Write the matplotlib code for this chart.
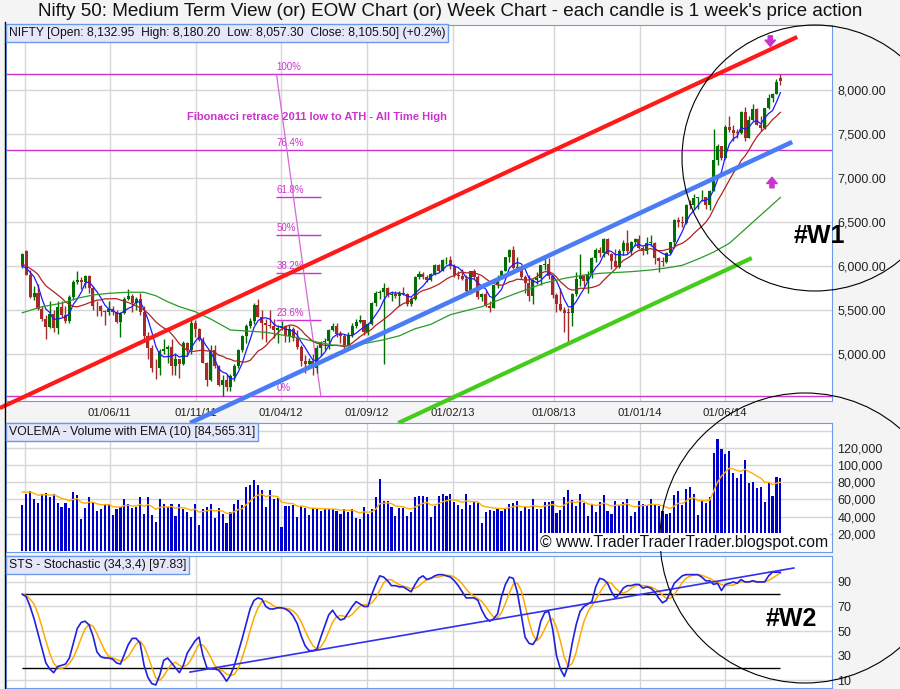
import matplotlib
matplotlib.use('Agg')
import matplotlib.pyplot as plt
import matplotlib.dates as mdates
from matplotlib.patches import Circle
import numpy as np
import pandas as pd

plt.rcParams['font.family'] = ['Liberation Sans', 'DejaVu Sans']

# ---------------- data: weekly Nifty 50 candles, week of 27/12/2010 .. week of 08/09/2014
first_week = '2010-12-27'

week_open = [
    5999, 6177, 5904, 5654, 5696, 5512, 5396, 5310, 5458, 5303,
    5538, 5445, 5374, 5654, 5826, 5842, 5824, 5884, 5749, 5551,
    5544, 5486, 5476, 5516, 5485, 5366, 5471, 5627, 5660, 5581,
    5633, 5482, 5211, 5072, 4845, 4839, 5040, 5059, 5084, 4868,
    4943, 4888, 5132, 5049, 5360, 5284, 5168, 4906, 4710, 5050,
    4867, 4651, 4714, 4624, 4754, 4867, 5049, 5204, 5325, 5381,
    5564, 5429, 5359, 5334, 5318, 5278, 5296, 5322, 5207, 5290,
    5190, 5086, 4929, 4891, 4920, 4842, 5068, 5139, 5146, 5279,
    5317, 5227, 5205, 5100, 5215, 5320, 5366, 5386, 5258, 5342,
    5577, 5691, 5703, 5747, 5676, 5684, 5665, 5698, 5686, 5574,
    5627, 5880, 5907, 5880, 5848, 5908, 6016, 5951, 6065, 6074,
    5998, 5904, 5887, 5850, 5719, 5946, 5872, 5651, 5682, 5553,
    5528, 5783, 5871, 5944, 6107, 6187, 5983, 5986, 5881, 5808,
    5667, 5842, 5868, 6009, 6029, 5887, 5677, 5566, 5508, 5472,
    5471, 5680, 5851, 5889, 5833, 5907, 6096, 6189, 6145, 6307,
    6141, 6056, 5995, 6176, 6260, 6168, 6274, 6314, 6211, 6171,
    6262, 6266, 6090, 6063, 6048, 6155, 6277, 6527, 6504, 6494,
    6696, 6694, 6776, 6780, 6782, 6694, 6859, 7203, 7367, 7229,
    7583, 7542, 7511, 7508, 7751, 7459, 7663, 7790, 7602, 7568,
    7792, 7913, 7954, 8132.95]

week_high = [
    6147, 6181, 5960, 5770, 5800, 5550, 5450, 5600, 5500, 5600,
    5600, 5550, 5670, 5842, 5944, 5880, 5900, 5900, 5780, 5600,
    5560, 5500, 5600, 5550, 5500, 5480, 5650, 5740, 5690, 5650,
    5700, 5550, 5250, 5100, 4950, 5060, 5170, 5100, 5170, 5020,
    4950, 5150, 5140, 5400, 5390, 5300, 5200, 4910, 5100, 5100,
    4880, 4760, 4780, 4780, 4890, 5060, 5220, 5340, 5414, 5580,
    5630, 5500, 5400, 5500, 5400, 5330, 5380, 5330, 5330, 5310,
    5280, 5100, 4990, 4960, 5000, 5100, 5150, 5190, 5290, 5350,
    5350, 5260, 5230, 5250, 5350, 5400, 5450, 5390, 5360, 5590,
    5720, 5735, 5815, 5760, 5720, 5720, 5720, 5760, 5700, 5650,
    5885, 5950, 5930, 5900, 5920, 6020, 6020, 6080, 6100, 6111,
    6020, 5950, 5970, 5900, 5950, 5970, 5900, 5700, 5720, 5600,
    5790, 5900, 5960, 6110, 6200, 6229, 6100, 6000, 5900, 5900,
    5850, 5930, 6010, 6090, 6093, 5900, 5700, 5750, 5540, 5520,
    5700, 5930, 6142, 5900, 5950, 6100, 6210, 6220, 6320, 6320,
    6150, 6190, 6200, 6300, 6415, 6290, 6325, 6358, 6225, 6330,
    6350, 6270, 6100, 6100, 6160, 6280, 6537, 6560, 6574, 6702,
    6750, 6820, 6790, 6870, 6790, 6870, 7563, 7390, 7370, 7600,
    7700, 7600, 7560, 7760, 7808, 7700, 7840, 7800, 7700, 7800,
    7950, 7968, 8130, 8180.20]

week_low = [
    5984, 5896, 5640, 5611, 5500, 5380, 5177, 5300, 5250, 5230,
    5420, 5350, 5350, 5620, 5800, 5740, 5750, 5700, 5500, 5430,
    5430, 5330, 5450, 5450, 5350, 5196, 5460, 5620, 5480, 5500,
    5450, 5160, 4948, 4800, 4720, 4760, 5000, 4900, 4760, 4760,
    4730, 4880, 4990, 5000, 5200, 5150, 4900, 4640, 4700, 4850,
    4640, 4531, 4588, 4588, 4700, 4840, 5030, 5130, 5300, 5340,
    5420, 5170, 5135, 5300, 5180, 5130, 5280, 5140, 5140, 5150,
    5060, 4870, 4790, 4870, 4770, 4790, 4980, 5050, 5060, 5270,
    5200, 5130, 5030, 5090, 5200, 5300, 5350, 5220, 5215, 5330,
    5550, 5630, 4888, 5650, 5600, 5640, 5550, 5670, 5550, 5550,
    5620, 5860, 5850, 5820, 5830, 5900, 5930, 5940, 6020, 5970,
    5880, 5860, 5840, 5670, 5690, 5860, 5630, 5600, 5540, 5477,
    5520, 5750, 5860, 5940, 6050, 5970, 5940, 5850, 5700, 5600,
    5566, 5800, 5790, 5960, 5860, 5640, 5480, 5490, 5254, 5118,
    5318, 5660, 5780, 5780, 5700, 5870, 6050, 6100, 6100, 6130,
    5970, 5990, 5980, 6130, 6150, 6130, 6230, 6200, 6130, 6140,
    6230, 6030, 5933, 6000, 6040, 6140, 6212, 6450, 6450, 6480,
    6650, 6650, 6650, 6740, 6650, 6638, 6850, 7150, 7200, 7220,
    7520, 7420, 7450, 7500, 7420, 7450, 7650, 7600, 7540, 7560,
    7780, 7860, 7950, 8057.30]

week_close = [
    6135, 5904, 5654, 5696, 5512, 5396, 5310, 5458, 5303, 5538,
    5445, 5374, 5654, 5826, 5842, 5824, 5884, 5749, 5551, 5544,
    5486, 5476, 5516, 5485, 5366, 5471, 5627, 5660, 5581, 5633,
    5482, 5211, 5072, 4845, 4839, 5040, 5059, 5084, 4868, 4943,
    4888, 5132, 5049, 5360, 5284, 5168, 4906, 4710, 5050, 4867,
    4651, 4714, 4624, 4754, 4867, 5049, 5204, 5325, 5381, 5564,
    5429, 5359, 5334, 5318, 5278, 5296, 5322, 5207, 5290, 5190,
    5086, 4929, 4891, 4920, 4842, 5068, 5139, 5146, 5279, 5317,
    5227, 5205, 5100, 5215, 5320, 5366, 5386, 5258, 5342, 5577,
    5691, 5703, 5747, 5676, 5684, 5665, 5698, 5686, 5574, 5627,
    5880, 5907, 5880, 5848, 5908, 6016, 5951, 6065, 6074, 5998,
    5904, 5887, 5850, 5719, 5946, 5872, 5651, 5682, 5553, 5528,
    5783, 5871, 5944, 6107, 6187, 5983, 5986, 5881, 5808, 5667,
    5842, 5868, 6009, 6029, 5887, 5677, 5566, 5508, 5472, 5471,
    5680, 5851, 5889, 5833, 5907, 6096, 6189, 6145, 6307, 6141,
    6056, 5995, 6176, 6260, 6168, 6274, 6314, 6211, 6171, 6262,
    6266, 6090, 6063, 6048, 6155, 6277, 6527, 6504, 6494, 6696,
    6694, 6776, 6780, 6782, 6694, 6859, 7203, 7367, 7229, 7583,
    7542, 7511, 7508, 7751, 7459, 7663, 7790, 7602, 7568, 7792,
    7913, 7954, 8087, 8105.50]

# closes of the 12 weeks before the first candle (only to start the 5/13 week averages)
close_before = [6103, 6062, 6066, 6018, 6312, 6071, 5890, 5752, 5992, 5907, 5948, 6011]

# slow (green) moving average: week number -> value
green_week = [0, 5, 10, 14, 18, 22, 27, 31, 34, 37, 40, 44, 48, 53, 62, 70, 75, 79, 84, 88,
              92, 96, 100, 104, 109, 117, 125, 133, 138, 143, 147, 155, 160, 164, 168, 172,
              176, 180, 184, 188, 193]
green_ma = [5472, 5540, 5580, 5636, 5673, 5692, 5705, 5704, 5665, 5597, 5541, 5484, 5400, 5276,
            5250, 5190, 5140, 5105, 5095, 5130, 5165, 5210, 5290, 5340, 5450, 5541, 5680, 5810,
            5862, 5900, 5919, 5938, 5957, 5980, 6010, 6080, 6160, 6260, 6420, 6580, 6780]

# weekly volume (thousands)
volume_k = [
    53.5, 66.3, 69.8, 60.1, 55.4, 66.3, 67.4, 62.4, 66.3, 55.4,
    50.8, 55.4, 49.6, 68.6, 64.7, 37.2, 50.0, 62.4, 57.0, 46.5,
    48.8, 54.2, 54.2, 41.8, 48.8, 50.8, 60.1, 54.2, 50.4, 51.1,
    62.4, 43.0, 62.4, 41.8, 33.7, 60.1, 54.2, 50.8, 54.2, 40.3,
    54.2, 48.8, 44.9, 39.1, 54.2, 29.8, 48.8, 50.8, 54.2, 38.8,
    50.0, 43.0, 32.1, 44.9, 54.2, 58.9, 53.5, 74.0, 76.7, 82.5,
    76.3, 70.5, 50.8, 70.5, 60.4, 61.2, 27.5, 52.3, 52.3, 53.5,
    39.1, 52.3, 49.6, 41.8, 49.6, 48.4, 46.9, 48.4, 48.4, 48.4,
    46.9, 43.0, 48.4, 45.3, 48.4, 38.3, 37.6, 50.8, 43.0, 48.4,
    62.4, 83.3, 58.1, 58.1, 50.8, 40.3, 49.6, 49.6, 40.7, 45.3,
    62.4, 63.5, 63.5, 62.4, 39.5, 52.7, 63.5, 66.3, 63.5, 66.3,
    57.3, 53.5, 48.4, 66.3, 53.5, 57.3, 56.2, 32.5, 45.7, 47.6,
    46.9, 48.4, 46.9, 50.4, 54.6, 56.2, 58.1, 46.9, 50.8, 49.2,
    60.1, 48.4, 48.4, 57.0, 57.0, 58.1, 44.5, 47.6, 62.4, 70.9,
    59.3, 52.3, 66.3, 55.4, 40.7, 53.5, 45.7, 57.3, 65.1, 46.9,
    43.0, 58.1, 53.5, 56.6, 60.4, 41.1, 45.7, 58.1, 54.6, 53.5,
    60.1, 53.5, 52.3, 46.5, 42.6, 43.8, 65.1, 69.8, 53.5, 72.1,
    74.4, 66.3, 41.8, 59.3, 56.2, 63.2, 113.5, 130.2, 118.6, 112.8,
    116.3, 91.1, 85.2, 89.1, 105.8, 79.4, 80.6, 73.6, 74.4, 57.3,
    80.6, 64.0, 86.4, 84.57]
vol_ema_start = 72000

# stochastic %K (34,3)
stoch_k = [
    80, 78, 70, 60, 48, 36, 24, 19, 16, 21,
    22, 23, 28, 40, 52, 57, 58, 55, 46, 33,
    29, 28, 28, 27, 24, 23, 31, 39, 44, 44,
    40, 22, 12, 7, 6, 14, 26, 28, 24, 20,
    16, 22, 32, 37, 42, 45, 30, 20, 19, 19,
    18, 14, 9, 14, 22, 33, 44, 56, 68, 75,
    77, 76, 70, 68, 68, 69, 69, 68, 66, 62,
    56, 46, 38, 34, 34, 35, 45, 54, 63, 67,
    62, 59, 60, 65, 70, 74, 72, 70, 70, 80,
    88, 95, 94, 91, 87, 87, 86, 86, 84, 82,
    88, 93, 95, 92, 93, 95, 96, 96, 95, 94,
    91, 87, 82, 77, 77, 77, 75, 67, 61, 58,
    60, 64, 78, 88, 94, 93, 82, 64, 45, 40,
    39, 44, 58, 65, 66, 52, 30, 19, 13, 22,
    40, 55, 66, 70, 72, 74, 86, 93, 92, 89,
    82, 77, 80, 85, 87, 87, 88, 88, 85, 86,
    85, 82, 77, 73, 75, 82, 89, 92, 95, 96,
    96, 96, 96, 94, 91, 91, 88, 89, 83, 88,
    89, 90, 89, 92, 90, 90, 91, 90, 90, 90,
    95, 98, 98, 97.83]

# fibonacci retracement, 2011 low to all time high
fib_low, fib_high = 4531.15, 8180.20
fib_ratios = [0, 23.6, 38.2, 50, 61.8, 76.4, 100]
fib_full = [0, 76.4, 100]
fib_dates = ['2012-03-24', '2012-06-11']

# drawn trend lines (date, value)
red_line = (['2010-11-17', '2014-10-08'], [4390, 8602])
blue_line = (['2011-10-22', '2014-09-29'], [4220, 7410])
green_line = (['2012-10-27', '2014-07-19'], [4220, 6093])
sto_line = (['2011-10-22', '2014-10-02'], [16.5, 101.4])

date_ticks = ['2011-01-01', '2011-06-01', '2011-11-01', '2012-04-01', '2012-09-01',
              '2013-02-01', '2013-08-01', '2014-01-01', '2014-06-01']

# ---------------- derived
n = len(week_close)
weeks = pd.date_range(first_week, periods=n, freq='7D')
x = mdates.date2num(weeks)
o = np.array(week_open); h = np.array(week_high); l = np.array(week_low); c = np.array(week_close)

all_close = pd.Series(close_before + week_close)
sma5 = all_close.rolling(5).mean().to_numpy()[len(close_before):]
sma13 = all_close.rolling(13).mean().to_numpy()[len(close_before):]
gx = mdates.date2num(pd.Timestamp(first_week) + pd.to_timedelta(np.array(green_week) * 7, unit='D'))

vol = np.array(volume_k) * 1000
vol_ema = []
e = vol_ema_start
for v in vol:
    e = e + (v - e) * 2 / 11
    vol_ema.append(e)
stoch_d = pd.Series(stoch_k).rolling(4, min_periods=1).mean()

def dn(s):
    return mdates.date2num(pd.to_datetime(s))

# ---------------- figure
W, H = 900, 689
BG = '#f4f4f4'
SPINE = '#6a9ae8'
GRID = '#d6d6d6'
MAG = '#cc33cc'
fig = plt.figure(figsize=(W / 100, H / 100), dpi=100, facecolor=BG)

def axes_px(left, top, right, bottom):
    return fig.add_axes([left / W, 1 - bottom / H, (right - left) / W, (bottom - top) / H])

xlim = (dn('2010-11-28'), dn('2014-12-09'))
tick_x = dn(date_ticks)

def style(ax):
    ax.set_facecolor('white')
    ax.set_xlim(*xlim)
    for s in ax.spines.values():
        s.set_color(SPINE)
    ax.yaxis.tick_right()
    ax.tick_params(axis='both', length=0, colors='#222222')
    ax.tick_params(axis='y', pad=4, labelsize=9)
    ax.set_xticks(tick_x)
    ax.grid(color=GRID, lw=1)
    ax.set_axisbelow(True)

# price panel
ax = axes_px(6, 25, 832, 401)
style(ax)
ax.set_ylim(4470, 8738)
ax.set_yticks(range(5000, 8001, 500))
ax.set_yticklabels([f'{v:,.2f}' for v in range(5000, 8001, 500)])
ax.set_xticklabels([''] + [pd.Timestamp(d).strftime('%d/%m/%y') for d in date_ticks[1:]])
ax.tick_params(axis='x', labelsize=8.2, pad=5)

up = c >= o
col = np.where(up, '#006e00', '#a52a2a')
ax.vlines(x, l, h, colors=col, lw=1, zorder=3)
body = np.maximum(np.abs(c - o), 10)
ax.bar(x, body, bottom=np.minimum(o, c), width=5.4, color=col, zorder=3)

ax.plot(x, sma5, color='#1a1aff', lw=0.9, zorder=4)
ax.plot(x, sma13, color='#b22222', lw=0.9, zorder=4)
ax.plot(gx, green_ma, color='#2a9a2a', lw=0.9, zorder=4)

levels = {r: fib_low + r / 100 * (fib_high - fib_low) for r in fib_ratios}
f0, f1 = dn(fib_dates)
for r in fib_ratios:
    if r in fib_full:
        ax.axhline(levels[r], color=MAG, lw=1, zorder=2)
    else:
        ax.hlines(levels[r], f0, f1, color=MAG, lw=1, zorder=2)
    ax.text(f0, levels[r] + 25, f'{r:g}%', color=MAG, fontsize=7, ha='left', va='bottom', zorder=2)
ax.plot([f0, f1], [fib_high, fib_low], color='#d868d8', lw=0.9, zorder=2)
ax.text(dn('2011-10-16'), 7694, 'Fibonacci retrace 2011 low to ATH - All Time High',
        color=MAG, fontsize=8, fontweight='bold', ha='left', va='center')

for (d, v), colr, lw in [(red_line, '#ff1a1a', 3), (blue_line, '#4a7df5', 3.3), (green_line, '#44cc1a', 3)]:
    ax.plot(dn(d), v, color=colr, lw=lw, zorder=5, clip_on=False, solid_capstyle='butt')

arrow = dict(arrowstyle='simple,head_width=0.75,head_length=0.45,tail_width=0.3',
             fc=MAG, ec=MAG, mutation_scale=10, shrinkA=0, shrinkB=0)
ax.annotate('', xy=(dn('2014-08-21'), 8495), xytext=(dn('2014-08-21'), 8615), arrowprops=arrow, zorder=6)
ax.annotate('', xy=(dn('2014-08-24'), 7010), xytext=(dn('2014-08-24'), 6890), arrowprops=arrow, zorder=6)

# volume panel
av = axes_px(6, 423, 832, 552)
style(av)
av.set_ylim(-1200, 148800)
av.set_yticks(range(20000, 140001, 20000))
av.set_yticklabels([f'{v:,}' if v < 140000 else '' for v in range(20000, 140001, 20000)])
av.set_xticklabels([])
av.bar(x, vol, width=3.8, color='#0000cc', zorder=3)
av.plot(x, vol_ema, color='#ffb000', lw=1, zorder=4)

# stochastic panel
st = axes_px(6, 556, 832, 688)
style(st)
st.set_ylim(3.5, 111.2)
st.set_yticks([10, 30, 50, 70, 90])
st.set_xticklabels([])
st.hlines([80, 20], x[0], x[-1], color='black', lw=1, zorder=3)
st.plot(x, stoch_d, color='#ffaa00', lw=1.1, zorder=4)
st.plot(x, stoch_k, color='#2020dd', lw=1.2, zorder=5)
st.plot(dn(sto_line[0]), sto_line[1], color='#3030ee', lw=1.2, zorder=5)

# ---------------- overlay in pixel coordinates (titles, notes, circles)
ov = fig.add_axes([0, 0, 1, 1], zorder=20)
ov.set_xlim(0, W)
ov.set_ylim(H, 0)
ov.axis('off')
ov.patch.set_alpha(0)

ov.text(450, 12, "Nifty 50: Medium Term View (or) EOW Chart (or) Week Chart - each candle is 1 week's price action",
        ha='center', va='center', fontsize=13.6, color='#111111')
box = dict(boxstyle='square,pad=0.22', fc='#e6e6fa', ec=SPINE, lw=1)
ov.text(9, 33, 'NIFTY [Open: 8,132.95  High: 8,180.20  Low: 8,057.30  Close: 8,105.50] (+0.2%)',
        fontsize=8.7, va='center', ha='left', bbox=box, color='#111111')
ov.text(9, 432, 'VOLEMA - Volume with EMA (10) [84,565.31]', fontsize=8.8, va='center', ha='left',
        bbox=box, color='#111111')
ov.text(9, 565, 'STS - Stochastic (34,3,4) [97.83]', fontsize=8.8, va='center', ha='left',
        bbox=box, color='#111111')
ov.text(540, 542, '\u00a9 www.TraderTraderTrader.blogspot.com', fontsize=11.3, va='center', ha='left',
        color='#111111', bbox=dict(boxstyle='square,pad=0.1', fc='white', ec='none'))

ov.add_patch(Circle((815, 158), 133, fill=False, ec='black', lw=0.8))
ov.add_patch(Circle((805, 538), 145, fill=False, ec='black', lw=0.8))
ov.text(819, 236, '#W1', fontsize=18, fontweight='bold', ha='center', va='center')
ov.text(791, 619, '#W2', fontsize=18, fontweight='bold', ha='center', va='center')
ov.plot([4.5, 4.5], [22, H], color='black', lw=1)

fig.savefig('out.png', dpi=100, facecolor=BG)
